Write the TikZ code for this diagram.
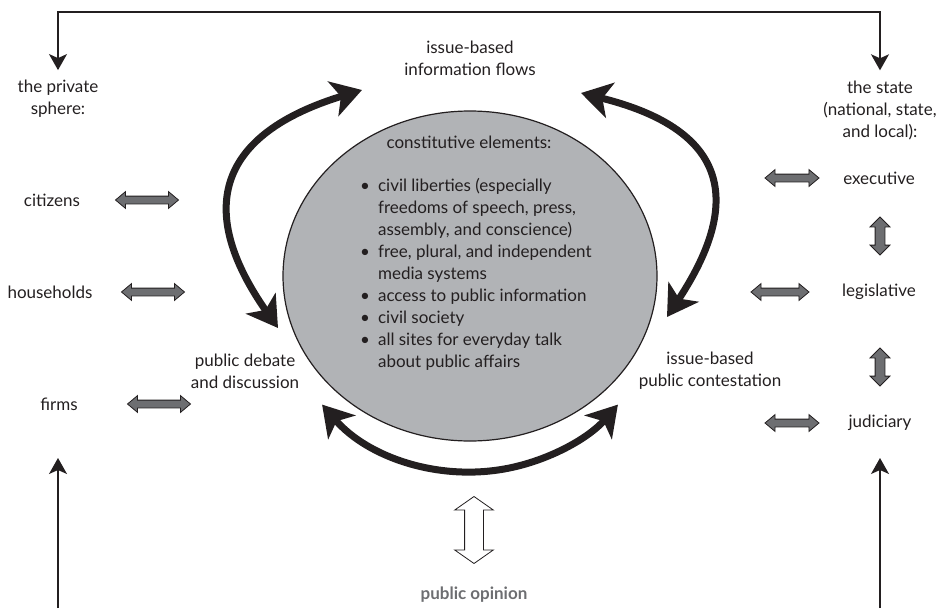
\documentclass[tikz,border=0pt]{standalone}
\usepackage{fontspec}
\setmainfont{Lato}
\usetikzlibrary{arrows.meta,shapes.arrows,shapes.geometric}
\definecolor{ink}{HTML}{231F20}
\definecolor{discgray}{HTML}{B1B3B6}
\definecolor{blockgray}{HTML}{6D6E71}

\begin{document}
\begin{tikzpicture}[x=1pt,y=1pt,font=\fontsize{17}{22}\selectfont,text=ink,
		>={Stealth[length=16pt,width=18pt,inset=4pt]},
		lbl/.style={align=center,inner sep=0pt},
		framearr/.style={draw=ink,line width=1.3pt},
		flowarc/.style={draw=ink,line width=7pt,
			{Stealth[length=30pt,width=36pt,inset=8pt]}-{Stealth[length=30pt,width=36pt,inset=8pt]}},
		hdbl/.style={double arrow,draw=ink,fill=blockgray,line width=0.8pt,
			minimum height=63pt,inner xsep=0pt,inner ysep=3.5pt,
			double arrow head extend=4.5pt,double arrow tip angle=80},
		vdbl/.style={hdbl,rotate=90,minimum height=38pt,inner ysep=4.5pt,
			double arrow head extend=5pt,double arrow tip angle=90},
		opendbl/.style={double arrow,draw=ink,fill=white,line width=0.8pt,rotate=90,
			minimum height=67pt,inner xsep=0pt,inner ysep=9pt,
			double arrow head extend=10pt,double arrow tip angle=110}]
		\useasboundingbox (0,0) rectangle (942,-608);

		% the disc and what it holds
		\node (core)[ellipse,draw=ink,fill=discgray,line width=1.2pt,inner sep=0pt,
			minimum width=374pt,minimum height=330pt] at (470,-276) {};
		\node (head)[lbl] at (469,-142) {constitutive elements:};
		\node (list)[lbl,align=left,anchor=north west] at (360,-176) {%
			\begin{tabular}{@{}l@{\hspace{8pt}}l@{}}
				\textbullet & civil liberties (especially\\
				& freedoms of speech, press,\\
				& assembly, and conscience)\\
				\textbullet & free, plural, and independent\\
				& media systems\\
				\textbullet & access to public information\\
				\textbullet & civil society\\
				\textbullet & all sites for everyday talk\\
				& about public affairs
			\end{tabular}};

		% labels round the disc
		\node (flows)[lbl] at (470,-58) {issue-based\\information flows};
		\node (debate)[lbl] at (245,-371) {public debate\\and discussion};
		\node (contest)[lbl] at (710,-371) {issue-based\\public contestation};
		\node (opinion)[lbl,font=\fontsize{17}{22}\selectfont\bfseries,text=blockgray] at (474,-595) {public opinion};

		% private sphere
		\node (priv)[lbl] at (58,-99) {the private\\sphere:};
		\node (cit)[lbl] at (52,-200) {citizens};
		\node (hh)[lbl] at (50,-292) {households};
		\node (firms)[lbl] at (59,-404) {firms};

		% the state
		\node (state)[lbl] at (880,-110) {the state\\(national, state,\\and local):};
		\node (exec)[lbl] at (879,-178) {executive};
		\node (leg)[lbl] at (879,-292) {legislative};
		\node (jud)[lbl] at (880,-423) {judiciary};

		% block arrows
		\node (ca)[hdbl] at (147,-200) {};
		\node (ha)[hdbl] at (153,-292) {};
		\node (fa)[hdbl] at (159,-404) {};
		\node (ea)[hdbl,minimum height=54pt] at (792,-178) {};
		\node (la)[hdbl,minimum height=58pt] at (780,-292) {};
		\node (ja)[hdbl,minimum height=54pt] at (792,-423) {};
		\node (v1)[vdbl] at (880,-236) {};
		\node (v2)[vdbl] at (880,-367) {};
		\node (op)[opendbl] at (474,-530) {};

		% thick flows
		\coordinate (l1) at (362,-90);
		\coordinate (l2) at (278,-328);
		\coordinate (r1) at (581,-93);
		\coordinate (r2) at (667,-317);
		\draw[flowarc] (l1) to[out=197,in=125,looseness=1.5] (l2);
		\draw[flowarc] (r1) to[out=346,in=56.6,looseness=1.55] (r2);
		\draw[flowarc] (core.center) ++(221:196) arc[start angle=221,end angle=319,radius=196];

		% frame
		\coordinate (topmid) at (470,-12);
		\coordinate (bl) at (58,-608);
		\coordinate (bltip) at (58,-458);
		\coordinate (br) at (880,-608);
		\coordinate (brtip) at (880,-458);
		\draw[framearr,<->] ([yshift=10pt]priv.north) |- (topmid) -| ([yshift=10pt]state.north);
		\draw[framearr,->] (bl) -- (bltip);
		\draw[framearr,->] (br) -- (brtip);
	\end{tikzpicture}
\end{document}
